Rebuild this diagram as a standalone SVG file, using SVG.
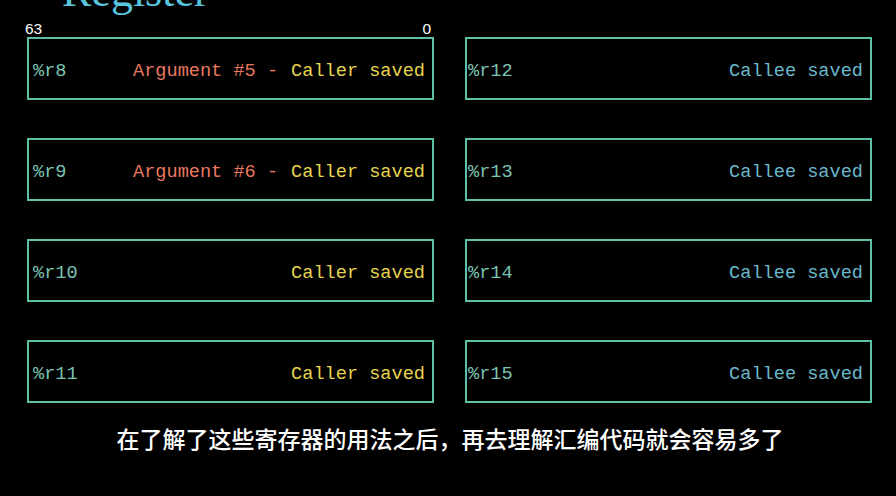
<svg xmlns="http://www.w3.org/2000/svg" width="896" height="496" viewBox="0 0 896 496">
<style>
.box{fill:#000;stroke:#5CC0A6;stroke-width:2}
.t{font-family:"Liberation Mono","DejaVu Sans Mono",monospace;font-size:18.6px}
.reg{fill:#7CC4B2}
.arg{fill:#E8785F}
.cr{fill:#E6D44E}
.ce{fill:#6AB8CC}
.lbl{font-family:"Liberation Sans",Arial,sans-serif;font-size:15.5px;fill:#fff}
</style>
<rect width="896" height="496" fill="#000"/>
<text x="62" y="6" font-family="Liberation Serif,serif" font-size="44" fill="#58C4DD">Register</text>
<text class="lbl" x="25" y="34">63</text>
<text class="lbl" x="431" y="34" text-anchor="end">0</text>
<g id="r8"><rect class="box" x="28" y="38" width="405" height="61"/><text class="t reg" x="33" y="76">%r8</text><text class="t arg" x="133" y="76">Argument #5 -</text><text class="t cr" x="425" y="76" text-anchor="end">Caller saved</text></g>
<g id="r9"><rect class="box" x="28" y="139" width="405" height="61"/><text class="t reg" x="33" y="177">%r9</text><text class="t arg" x="133" y="177">Argument #6 -</text><text class="t cr" x="425" y="177" text-anchor="end">Caller saved</text></g>
<g id="r10"><rect class="box" x="28" y="240" width="405" height="61"/><text class="t reg" x="33" y="278">%r10</text><text class="t cr" x="425" y="278" text-anchor="end">Caller saved</text></g>
<g id="r11"><rect class="box" x="28" y="341" width="405" height="61"/><text class="t reg" x="33" y="379">%r11</text><text class="t cr" x="425" y="379" text-anchor="end">Caller saved</text></g>
<g id="r12"><rect class="box" x="466" y="38" width="405" height="61"/><text class="t reg" x="468" y="76">%r12</text><text class="t ce" x="863" y="76" text-anchor="end">Callee saved</text></g>
<g id="r13"><rect class="box" x="466" y="139" width="405" height="61"/><text class="t reg" x="468" y="177">%r13</text><text class="t ce" x="863" y="177" text-anchor="end">Callee saved</text></g>
<g id="r14"><rect class="box" x="466" y="240" width="405" height="61"/><text class="t reg" x="468" y="278">%r14</text><text class="t ce" x="863" y="278" text-anchor="end">Callee saved</text></g>
<g id="r15"><rect class="box" x="466" y="341" width="405" height="61"/><text class="t reg" x="468" y="379">%r15</text><text class="t ce" x="863" y="379" text-anchor="end">Callee saved</text></g>
<g id="connectors"/>
<text x="450" y="448" text-anchor="middle" font-family="'Noto Sans CJK SC',sans-serif" font-size="23" font-weight="500" fill="#fff">在了解了这些寄存器的用法之后，再去理解汇编代码就会容易多了</text>
</svg>
